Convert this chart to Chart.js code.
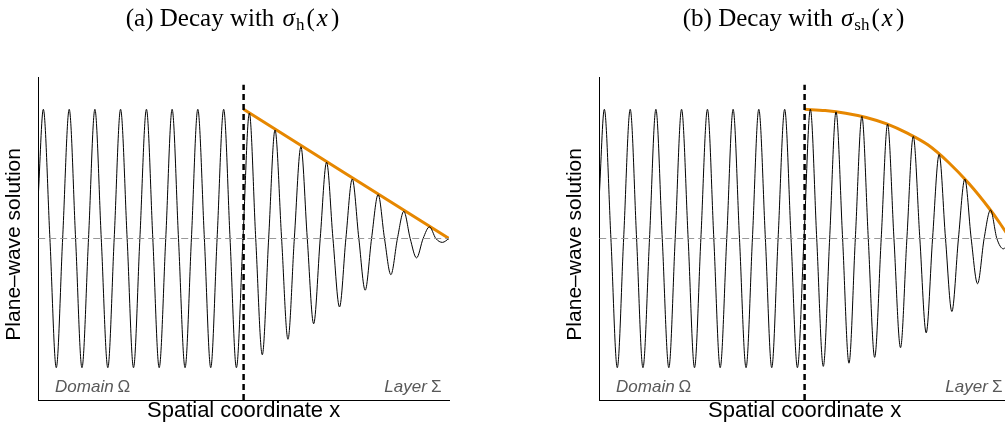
<!DOCTYPE html>
<html>
<head>
<meta charset="utf-8">
<script src="https://cdn.jsdelivr.net/npm/chart.js@4.4.0/dist/chart.umd.min.js"></script>
<style>
  html, body { margin: 0; padding: 0; background: #fff; width: 1005px; height: 430px; overflow: hidden; }
  .panel { position: absolute; top: 0; width: 470px; height: 430px; }
  .panel canvas { position: absolute; left: 0; top: 0; }
  .cap {
    position: absolute; top: 3px; left: 0; width: 465px; line-height: 30px;
    text-align: center; font-family: "Liberation Serif", "Times New Roman", serif; font-size: 25px; color: #000;
    white-space: nowrap;
  }
  .cap i { font-style: italic; }
  .cap .sg { margin-left: 2px; }
  .cap sub { font-size: 17px; vertical-align: -4px; margin: 0 2px 0 1px; }
  .cap .vx { margin: 0 3px 0 2px; }
</style>
</head>
<body>
<div class="panel" style="left:0px">
  <canvas id="chartA" width="470" height="430"></canvas>
  <div class="cap">(a) Decay with <i class="sg">σ</i><sub>h</sub>(<i class="vx">x</i>)</div>
</div>
<div class="panel" style="left:561px">
  <canvas id="chartB" width="470" height="430"></canvas>
  <div class="cap">(b) Decay with <i class="sg">σ</i><sub>sh</sub>(<i class="vx">x</i>)</div>
</div>
<script>
// positions along x (interface between domain and layer at x = 1)
const waveX = [0, 0.025, 0.057, 0.088, 0.119, 0.151, 0.182, 0.213, 0.245, 0.276, 0.307, 0.339, 0.370,
  0.401, 0.433, 0.464, 0.495, 0.527, 0.558, 0.589, 0.621, 0.652, 0.683, 0.715, 0.746, 0.777, 0.809,
  0.840, 0.871, 0.903, 0.934, 0.965, 0.997, 1.028, 1.059, 1.091, 1.122, 1.153, 1.185, 1.216, 1.247,
  1.279, 1.310, 1.341, 1.373, 1.404, 1.435, 1.467, 1.498, 1.529, 1.561, 1.592, 1.623, 1.655, 1.686,
  1.717, 1.749, 1.780, 1.811, 1.842, 1.874, 1.905, 1.936, 1.968, 2.0];

// wave values, panel (a): linear decay in the layer
const waveA = [0.32, 1, 0, -1, 0, 1, 0, -1, 0, 1, 0, -1, 0, 1, 0, -1, 0, 1, 0, -1, 0, 1, 0, -1, 0,
  1, 0, -1, 0, 1, 0, -1, 0, 0.97, 0, -0.90, 0, 0.84, 0, -0.78, 0, 0.71, 0, -0.66, 0, 0.59, 0, -0.53, 0,
  0.46, 0, -0.40, 0, 0.34, 0, -0.28, 0, 0.21, 0, -0.15, 0, 0.09, 0, -0.03, 0];

// wave values, panel (b): decay following sigma_sh
const waveB = [0.32, 1, 0, -1, 0, 1, 0, -1, 0, 1, 0, -1, 0, 1, 0, -1, 0, 1, 0, -1, 0, 1, 0, -1, 0,
  1, 0, -1, 0, 1, 0, -1, 0, 1.0, 0, -0.99, 0, 0.98, 0, -0.965, 0, 0.945, 0, -0.92, 0, 0.885, 0, -0.845, 0,
  0.79, 0, -0.73, 0, 0.65, 0, -0.565, 0, 0.46, 0, -0.35, 0, 0.22, 0, -0.08, 0];

// envelopes (orange)
const envAX = [1, 2];
const envAY = [1, 0];
const envBX = [1.0, 1.1, 1.2, 1.3, 1.4, 1.5, 1.6, 1.7, 1.8, 1.9, 1.95, 2.0];
const envBY = [1.0, 0.99, 0.97, 0.937, 0.887, 0.815, 0.725, 0.59, 0.425, 0.23, 0.12, 0];

// interface and zero reference
const ifaceX = [1, 1];
const ifaceY = [-1.25, 1.19];
const zeroX = [0, 2];
const zeroY = [0, 0];

const sans = '"Liberation Sans", Arial, Helvetica, sans-serif';

function pts(xs, ys) {
  return xs.map((x, i) => ({ x: x, y: ys[i] }));
}

// labels inside the plot
const regionLabels = {
  id: 'regionLabels',
  afterDatasetsDraw(chart) {
    const { ctx, scales: { x, y } } = chart;
    const yy = y.getPixelForValue(-1.19);
    ctx.save();
    ctx.fillStyle = '#595959';
    ctx.textBaseline = 'alphabetic';
    // Domain Ω
    let xx = x.getPixelForValue(0.082);
    ctx.font = 'italic 17px ' + sans;
    ctx.textAlign = 'left';
    ctx.fillText('Domain', xx, yy);
    xx += ctx.measureText('Domain').width + 4;
    ctx.font = '17px ' + sans;
    ctx.fillText('Ω', xx, yy);
    // Layer Σ
    const xr = x.getPixelForValue(1.963);
    ctx.textAlign = 'right';
    ctx.fillText('Σ', xr, yy);
    const w = ctx.measureText('Σ').width + 4;
    ctx.font = 'italic 17px ' + sans;
    ctx.fillText('Layer', xr - w, yy);
    ctx.restore();
  }
};

function makePanel(id, waveY, envX, envY) {
  return new Chart(document.getElementById(id), {
    type: 'line',
    data: {
      datasets: [
        {
          data: pts(zeroX, zeroY),
          borderColor: '#999999', borderWidth: 1, borderDash: [7, 4], tension: 0
        },
        {
          data: pts(waveX, waveY),
          borderColor: '#000', borderWidth: 1, cubicInterpolationMode: 'monotone'
        },
        {
          data: pts(ifaceX, ifaceY),
          borderColor: '#000', borderWidth: 2.5, borderDash: [6, 4], tension: 0
        },
        {
          data: pts(envX, envY),
          borderColor: 'rgb(230,135,0)', borderWidth: 3, cubicInterpolationMode: 'monotone'
        }
      ]
    },
    options: {
      responsive: false,
      animation: false,
      layout: { padding: { left: 0, right: 21, top: 77, bottom: 0 } },
      elements: { point: { radius: 0 } },
      plugins: { legend: { display: false }, tooltip: { enabled: false } },
      scales: {
        x: {
          type: 'linear', min: 0, max: 2,
          grid: { display: false, drawTicks: false },
          border: { display: true, color: '#000', width: 1 },
          ticks: { display: false },
          title: {
            display: true, text: 'Spatial coordinate x', color: '#000',
            font: { family: sans, size: 22, lineHeight: 1 },
            padding: { top: 0, bottom: 8 }
          }
        },
        y: {
          type: 'linear', min: -1.25, max: 1.25,
          grid: { display: false, drawTicks: false },
          border: { display: true, color: '#000', width: 1 },
          ticks: { display: false },
          title: {
            display: true, text: 'Plane–wave solution  ', color: '#000',
            font: { family: sans, size: 21, lineHeight: 1 },
            padding: { top: 3.5, bottom: 13.7 }
          }
        }
      }
    },
    plugins: [regionLabels]
  });
}

makePanel('chartA', waveA, envAX, envAY);
makePanel('chartB', waveB, envBX, envBY);
</script>
</body>
</html>
